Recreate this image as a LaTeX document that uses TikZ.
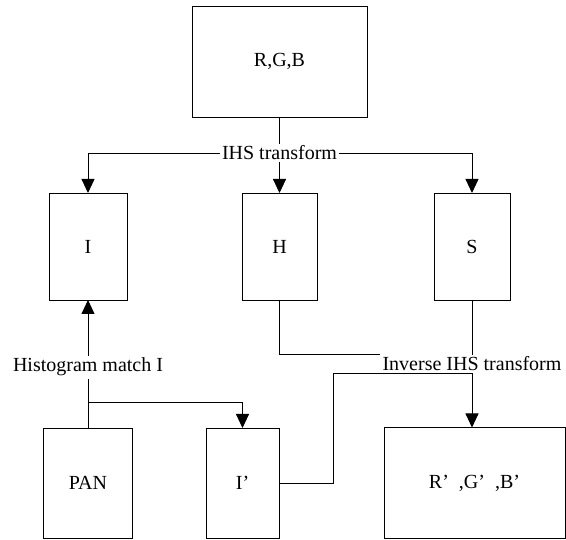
\documentclass[tikz,border=0pt]{standalone}
\usepackage{fontspec}
\setmainfont{Liberation Serif}
\usetikzlibrary{positioning, arrows.meta}

\begin{document}
\begin{tikzpicture}[x=1pt,y=-1pt]

	\tikzstyle{every node}=[font=\fontsize{20}{24}\selectfont]
	\tikzstyle{block}=[draw, line width=0.9pt, inner sep=0pt, outer sep=0pt]
	\tikzstyle{tag}=[inner sep=2pt, anchor=base]

	\useasboundingbox (0,0) rectangle (566,540);

	\node[block, minimum width=175pt, minimum height=111pt]                    (rgb)  at (279.5,61.5) {R,G,B};
	\node[block, minimum width=75pt, minimum height=107pt, below = 76pt of rgb] (h)    {H};
	\node[block, minimum width=78pt, minimum height=107pt, left = 115pt of h]   (i)    {I};
	\node[block, minimum width=76pt, minimum height=107pt, right = 117pt of h]  (s)    {S};
	\node[block, minimum width=89pt, minimum height=110pt, below = 128pt of i]  (pan)  {PAN};
	\node[block, minimum width=73pt, minimum height=110pt, right = 73.5pt of pan] (ip) {I’};
	\node[block, minimum width=181pt, minimum height=111pt, right = 105pt of ip] (rgbp) {R’\hspace{0.5em},G’\hspace{0.5em},B’};

	\node[tag] (ihs)  at (279.5,160) {IHS transform};
	\node[tag] (hist) at (88,372)    {Histogram match I};
	\node[tag] (inv)  at (472,371)   {Inverse IHS transform};

	\tikzstyle{wire}  = [line width=0.9pt]
	\tikzstyle{arrow} = [wire,->,>={Triangle[length=14pt,width=13pt]}]
	\draw[wire]  (rgb)       --    (ihs);
	\draw[arrow] (ihs.west)  -|    (i);
	\draw[arrow] (ihs.east)  -|    (s);
	\draw[arrow] (ihs)       --    (h);

	\coordinate (fork) at (88,402);
	\draw[wire]  (pan)       --    (hist);
	\draw[arrow] (hist)      --    (i);
	\draw[arrow] (fork)      -|    (ip);

	\coordinate (bend) at (333,373);
	\draw[wire]  (h.south)   |-    (inv.north west);
	\draw[wire]  (s.south)   --    (inv.north);
	\draw[wire]  (ip.east)   -|    (bend) -- (bend -| inv.south);
	\draw[arrow] (inv.south) --    (inv.south |- rgbp.north);

\end{tikzpicture}
\end{document}
